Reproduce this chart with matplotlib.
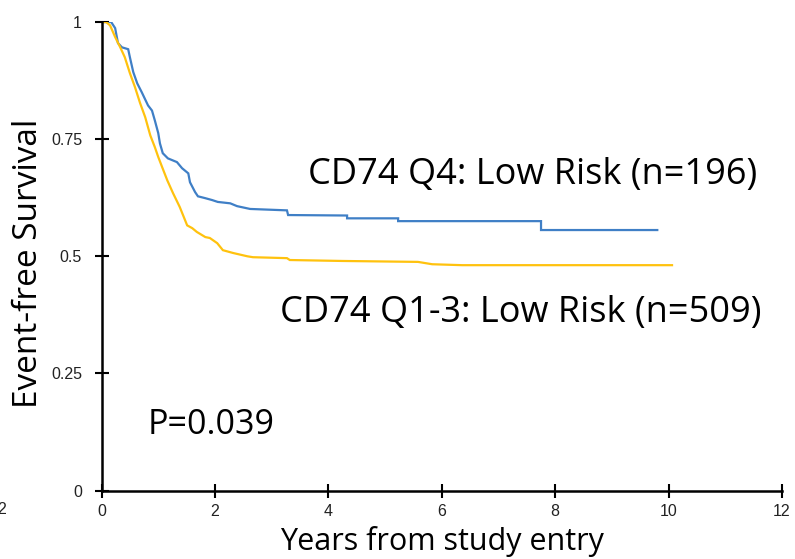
import matplotlib
matplotlib.use("Agg")
import matplotlib.pyplot as plt

# Kaplan-Meier curve: CD74 Q4 (low risk, n=196)
q4_years = [0, 0.17, 0.24, 0.29, 0.36, 0.47, 0.50, 0.56, 0.63, 0.71, 0.82, 0.89, 0.94,
            1.00, 1.03, 1.08, 1.17, 1.33, 1.42, 1.53, 1.56, 1.65, 1.70, 1.83, 1.95,
            2.05, 2.27, 2.39, 2.62, 3.27, 3.29, 4.33, 4.33, 5.23, 5.23, 7.75, 7.75, 9.80]
q4_surv = [1.0, 1.0, 0.987, 0.955, 0.946, 0.942, 0.925, 0.893, 0.869, 0.850, 0.822, 0.811, 0.790,
           0.763, 0.741, 0.720, 0.709, 0.701, 0.688, 0.677, 0.658, 0.637, 0.628, 0.624, 0.620,
           0.616, 0.613, 0.607, 0.601, 0.598, 0.588, 0.587, 0.581, 0.581, 0.575, 0.575, 0.556, 0.556]

# Kaplan-Meier curve: CD74 Q1-3 (low risk, n=509)
q13_years = [0, 0.08, 0.15, 0.24, 0.33, 0.41, 0.50, 0.59, 0.68, 0.77, 0.86, 0.94, 1.00,
             1.07, 1.16, 1.26, 1.38, 1.51, 1.60, 1.68, 1.83, 1.91, 2.04, 2.14, 2.32,
             2.57, 2.67, 3.27, 3.32, 4.24, 5.58, 5.83, 6.36, 10.06]
q13_surv = [1.0, 1.0, 0.993, 0.968, 0.946, 0.925, 0.891, 0.861, 0.827, 0.797, 0.758, 0.733, 0.712,
            0.690, 0.662, 0.635, 0.605, 0.566, 0.560, 0.552, 0.541, 0.539, 0.528, 0.513, 0.507,
            0.500, 0.498, 0.496, 0.492, 0.490, 0.488, 0.483, 0.481, 0.481]

x_ticks = [0, 2, 4, 6, 8, 10, 12]
y_ticks = [0, 0.25, 0.5, 0.75, 1]
y_tick_labels = ["0", "0.25", "0.5", "0.75", "1"]

label_font = "Open Sans"
tick_font = "Liberation Sans"

fig = plt.figure(figsize=(7.95, 5.59), dpi=100)
ax = fig.add_axes([0.1277, 0.1225, 0.8560, 0.8381])

ax.plot(q4_years, q4_surv, color="#3F7FC6", lw=1.6, solid_joinstyle="miter")
ax.plot(q13_years, q13_surv, color="#FFC20E", lw=1.6, solid_joinstyle="miter")

ax.set_xlim(0, 12)
ax.set_ylim(0, 1)
ax.set_xticks(x_ticks)
ax.set_xticklabels([str(t) for t in x_ticks], fontfamily=tick_font, fontsize=11.5,
                   color="#222222")
ax.set_yticks(y_ticks)
ax.set_yticklabels(y_tick_labels, fontfamily=tick_font, fontsize=11.5, color="#222222")
ax.tick_params(direction="inout", length=10, width=1.5, color="black")
ax.tick_params(axis="y", pad=9)
ax.tick_params(axis="x", pad=5)

for side in ("top", "right"):
    ax.spines[side].set_visible(False)
for side in ("left", "bottom"):
    ax.spines[side].set_linewidth(1.8)
    ax.spines[side].set_color("black")

ax.set_xlabel("Years from study entry", fontfamily=label_font, fontsize=22, labelpad=5)
ax.set_ylabel("Event-free Survival", fontfamily=label_font, fontsize=24)
ax.yaxis.set_label_coords(-0.083, 0.485)

ax.text(3.64, 0.673, "CD74 Q4: Low Risk (n=196)", fontfamily=label_font, fontsize=26,
        ha="left", va="center")
ax.text(3.15, 0.379, "CD74 Q1-3: Low Risk (n=509)", fontfamily=label_font, fontsize=26,
        ha="left", va="center")
ax.text(0.82, 0.14, "P=0.039", fontfamily=label_font, fontsize=24.5, ha="left", va="center")

# partial tick label at the left margin
fig.text(6 / 795, 1 - 510 / 559, "2", fontfamily=tick_font, fontsize=11.5, color="#222222",
         ha="right", va="center")

fig.savefig("out.png", dpi=100, facecolor="white")
